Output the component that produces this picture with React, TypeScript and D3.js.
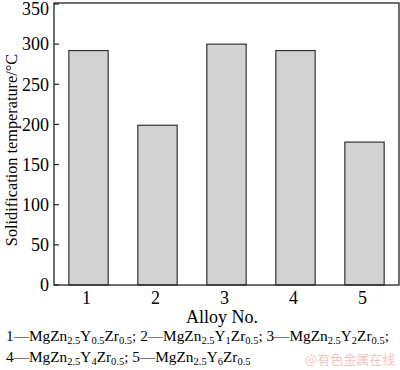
import React from 'react';
import * as d3 from 'd3';

const alloys = ['1', '2', '3', '4', '5'];
const temps = [292, 199, 300, 292, 178];
const yTicks = [0, 50, 100, 150, 200, 250, 300, 350];

// legend parts: [text, isSubscript]
const legendLine1: [string, boolean][] = [
  ['1—MgZn', false], ['2.5', true], ['Y', false], ['0.5', true], ['Zr', false], ['0.5', true], ['; ', false],
  ['2—MgZn', false], ['2.5', true], ['Y', false], ['1', true], ['Zr', false], ['0.5', true], ['; ', false],
  ['3—MgZn', false], ['2.5', true], ['Y', false], ['2', true], ['Zr', false], ['0.5', true], [';', false],
];
const legendLine2: [string, boolean][] = [
  ['4—MgZn', false], ['2.5', true], ['Y', false], ['4', true], ['Zr', false], ['0.5', true], ['; ', false],
  ['5—MgZn', false], ['2.5', true], ['Y', false], ['6', true], ['Zr', false], ['0.5', true],
];

function Legend({ parts, y }: { parts: [string, boolean][]; y: number }) {
  return (
    <text x={6} y={y} fontSize={15.3} style={{ whiteSpace: 'pre' }}>
      {parts.map(([t, sub], i) => (
        <tspan
          key={i}
          fontSize={sub ? 10.5 : 15.3}
          dy={sub ? 3 : i > 0 && parts[i - 1][1] ? -3 : 0}
        >
          {t}
        </tspan>
      ))}
    </text>
  );
}

function App() {
  const left = 54;
  const right = 399;
  const top = 3;
  const bottom = 285;

  const xScale = d3.scaleBand().domain(alloys).range([left, right]).paddingInner(0.43).paddingOuter(0.215);
  const yScale = d3.scaleLinear().domain([0, 350]).range([bottom, top + 1]);

  return (
    <svg
      width={400}
      height={370}
      style={{ position: 'absolute', left: 0, top: 0, fontFamily: '"Liberation Serif", "Times New Roman", serif' }}
    >
      <rect width={400} height={370} fill="#fff" />
      {alloys.map((a, i) => (
        <rect
          key={a}
          x={xScale(a)}
          y={yScale(temps[i])}
          width={xScale.bandwidth()}
          height={yScale(0) - yScale(temps[i])}
          fill="#d2d2d2"
          stroke="#333"
          strokeWidth={1.2}
        />
      ))}
      <rect
        x={left}
        y={top}
        width={right - left}
        height={bottom - top}
        fill="none"
        stroke="#222"
        strokeWidth={1.3}
      />
      {yTicks.map((t) => (
        <line key={t} x1={left} x2={left + 5} y1={yScale(t)} y2={yScale(t)} stroke="#222" strokeWidth={1.2} />
      ))}
      {yTicks.map((t) => (
        <text key={t} x={left - 5} y={Math.max(yScale(t), 9)} dy="0.35em" textAnchor="end" fontSize={18}>
          {t}
        </text>
      ))}
      {alloys.map((a) => (
        <text key={a} x={(xScale(a) ?? 0) + xScale.bandwidth() / 2 - 2} y={304} textAnchor="middle" fontSize={18}>
          {a}
        </text>
      ))}
      <text x={222} y={323} textAnchor="middle" fontSize={18}>
        Alloy No.
      </text>
      <text transform="translate(17 150) rotate(-90)" textAnchor="middle" fontSize={16.3}>
        Solidification temperature/°C
      </text>
      <Legend parts={legendLine1} y={341} />
      <Legend parts={legendLine2} y={362} />
      <text x={305} y={364} fontSize={13} fill="#f4c4c4" fontFamily='"Noto Sans CJK SC", sans-serif'>
        @有色金属在线
      </text>
    </svg>
  );
}

export default App;
